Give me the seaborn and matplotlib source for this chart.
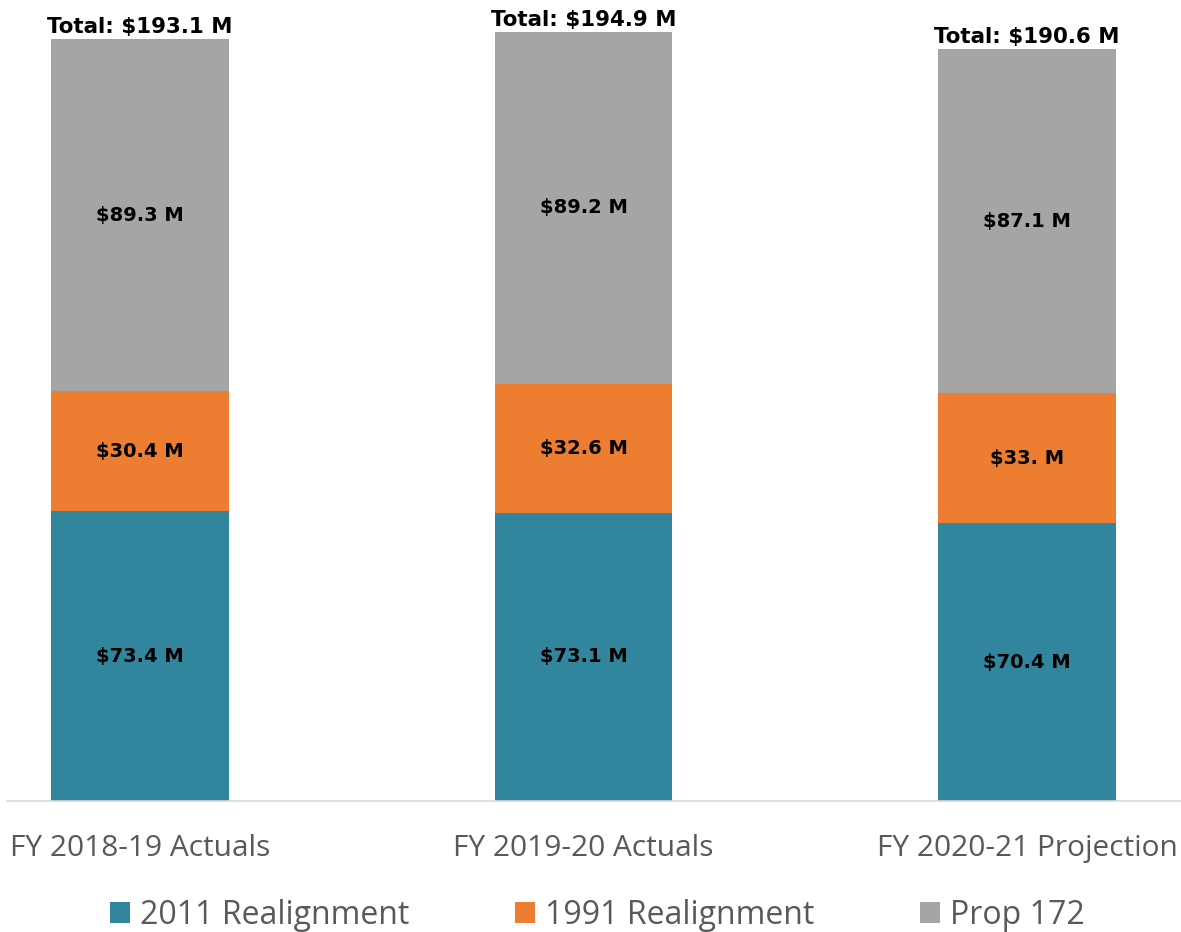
import matplotlib
matplotlib.use("Agg")
import matplotlib.pyplot as plt
from matplotlib.patches import Patch
import seaborn as sns
import pandas as pd
import numpy as np

categories = ["FY 2018-19 Actuals", "FY 2019-20 Actuals", "FY 2020-21 Projection"]
realign_2011 = [73.4, 73.1, 70.4]
realign_1991 = [30.4, 32.6, 33.0]
prop_172 = [89.3, 89.2, 87.1]
totals = [193.1, 194.9, 190.6]
series_names = ["2011 Realignment", "1991 Realignment", "Prop 172"]
colors = ["#31859C", "#ED7D31", "#A5A5A5"]

def fmt(v):
    # Excel "#.#" style: trailing zero dropped, decimal point kept
    return "$" + f"{v:.1f}".rstrip("0") + " M"

sns.set_theme(style="white")
plt.rcParams["font.family"] = ["Open Sans", "DejaVu Sans"]

fig = plt.figure(figsize=(11.81, 9.32), dpi=100)
ax = fig.add_axes([7 / 1181, 1 - 801 / 932, 1 - 7 / 1181, 801 / 932])

df = pd.DataFrame({
    "cat": categories,
    "a": realign_2011,
    "ab": np.array(realign_2011) + np.array(realign_1991),
    "abc": np.array(realign_2011) + np.array(realign_1991) + np.array(prop_172),
})

for col, c in [("abc", colors[2]), ("ab", colors[1]), ("a", colors[0])]:
    sns.barplot(data=df, x="cat", y=col, order=categories, color=c,
                width=0.4, saturation=1, ax=ax, linewidth=0)

ax.set_xlim(-0.30, 2.347)
ax.set_ylim(0, 203)
ax.set_yticks([])
ax.set_xlabel("")
ax.set_ylabel("")
ax.set_xticks(range(3))
ax.set_xticklabels(categories, fontsize=21.5, color="#595959")
ax.tick_params(axis="x", length=0, pad=24)
for s in ["top", "right", "left"]:
    ax.spines[s].set_visible(False)
ax.spines["bottom"].set_color("#D9D9D9")
ax.spines["bottom"].set_linewidth(1.2)

lab_kw = dict(ha="center", va="center", fontsize=14, fontweight="bold",
              color="black", family=["DejaVu Sans"])
for i in range(3):
    a, b, c = realign_2011[i], realign_1991[i], prop_172[i]
    ax.text(i, a / 2, fmt(a), **lab_kw)
    ax.text(i, a + b / 2, fmt(b), **lab_kw)
    ax.text(i, a + b + c / 2, fmt(c), **lab_kw)
    ax.text(i, a + b + c + 0.6, "Total: " + fmt(totals[i]), ha="center",
            va="bottom", fontsize=15.4, fontweight="bold", color="black",
            family=["DejaVu Sans"])

handles = [Patch(facecolor=colors[k], edgecolor="none") for k in range(3)]
fig.legend(handles, series_names, loc="center", bbox_to_anchor=(0.506, 1 - 915 / 932),
           ncol=3, frameon=False, fontsize=23, labelcolor="#595959",
           handlelength=0.62, handleheight=0.62, handletextpad=0.33,
           columnspacing=3.3)

fig.savefig("out.png", dpi=100)
